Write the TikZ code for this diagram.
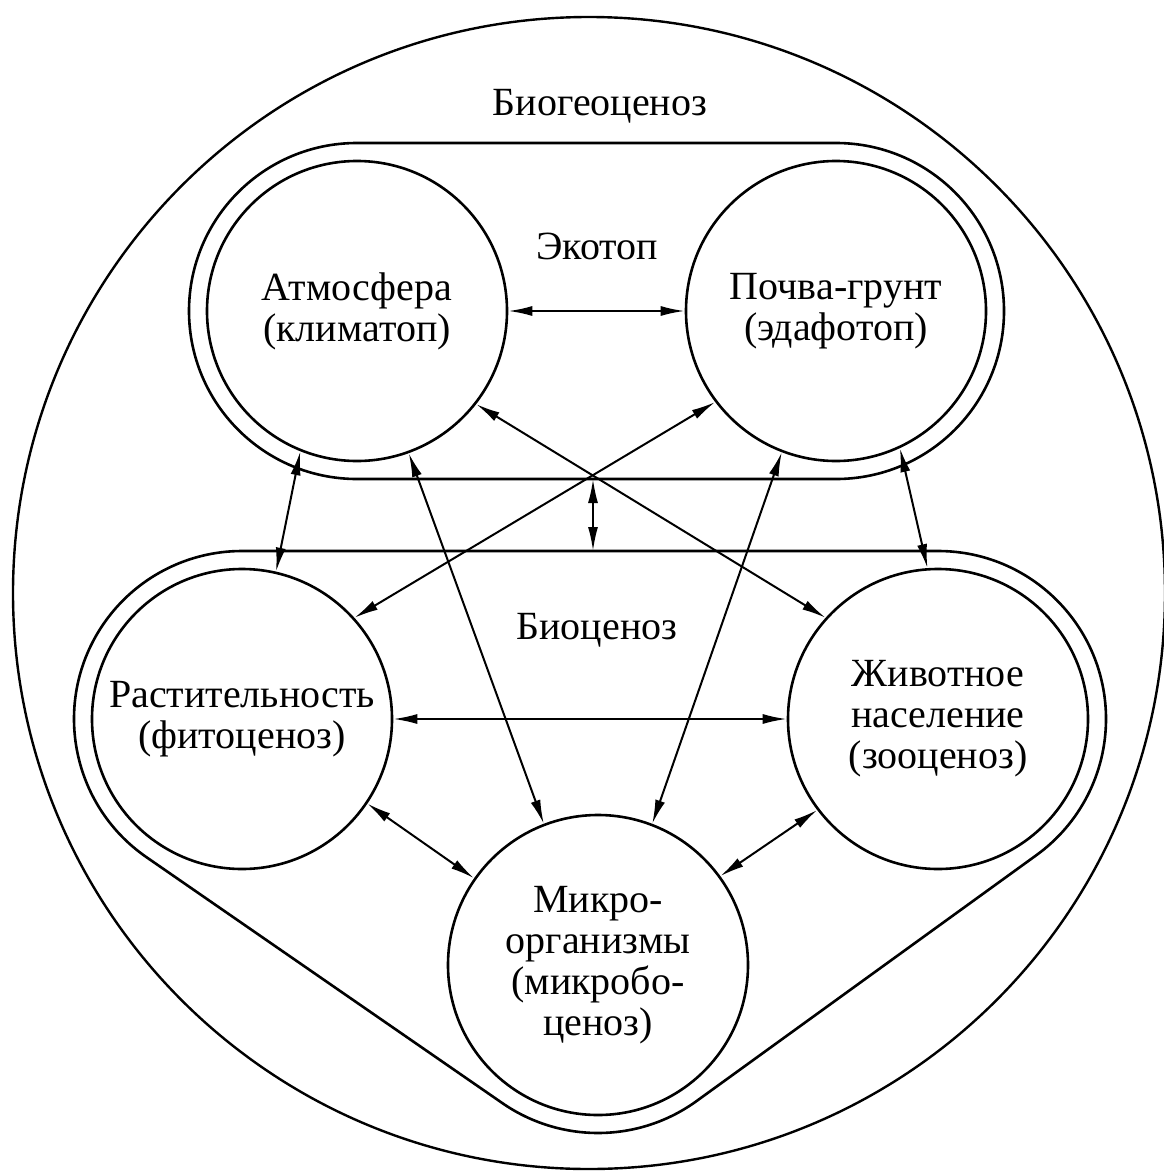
\documentclass[tikz,border=0pt]{standalone}
\usepackage{fontspec}
\setmainfont{Liberation Serif}
\usetikzlibrary{arrows.meta,calc}
\begin{document}
\begin{tikzpicture}[x=1pt,y=1pt,
  unit/.style={circle,draw,line width=2.6pt,minimum size=300pt,inner sep=0pt,align=center,font=\fontsize{40}{41}\selectfont},
  hull/.style={draw,line width=2.6pt},
  link/.style={line width=2pt,{Latex[length=24pt,width=10pt]}-{Latex[length=24pt,width=10pt]}},
  lbl/.style={font=\fontsize{40}{41}\selectfont}]
\fill[white] (0,0) rectangle (1163,-1175);
\useasboundingbox (0,0) rectangle (1163,-1175);
% outer circle
\draw[line width=2.4pt] (589,-593) circle[radius=576];
% units
\node[unit] (atm) at (357,-311) {Атмосфера\\(климатоп)};
\node[unit] (poch) at (836,-311) {Почва-грунт\\(эдафотоп)};
\node[unit] (rast) at (242,-719) {Растительность\\(фитоценоз)};
\node[unit] (zhiv) at (938,-719) {Животное\\население\\(зооценоз)};
\node[unit] (mikro) at (598,-965) {Микро-\\организмы\\(микробо-\\ценоз)};
% ecotop hull
\draw[hull] (357,-143) -- (836,-143) arc[start angle=90,end angle=-90,radius=168] -- (357,-479) arc[start angle=270,end angle=90,radius=168] -- cycle;
% biocenosis hull
\draw[hull] (242,-551) -- (938,-551) arc[start angle=90,end angle=-54.11,radius=168] -- ++(-340,-246) arc[start angle=-54.11,end angle=-124.64,radius=168] -- ++(-356,246) arc[start angle=235.36,end angle=90,radius=168] -- cycle;
% labels
\node[lbl] (tBio) at (600,-106) {Биогеоценоз};
\node[lbl] (tEco) at (597,-246) {Экотоп};
\node[lbl] (tBc) at (597,-630) {Биоценоз};
% connectors
\coordinate (ecoB) at (593,-479);
\coordinate (bioT) at (593,-551);
\draw[link] (ecoB) -- (bioT);
\draw[link] (atm.0) -- (poch.180);
\draw[link] (rast.0) -- (zhiv.180);
\draw[link] (rast.-34.5) -- (mikro.145);
\draw[link] (zhiv.217) -- (mikro.36);
\draw[link] (atm.-70) -- (mikro.111.5);
\draw[link] (poch.-111) -- (mikro.69);
\draw[link] (atm.-38) -- (zhiv.138);
\draw[link] (poch.217) -- (rast.42);
\draw[link] (atm.248) -- (rast.77);
\draw[link] (poch.-65) -- (zhiv.94);
\end{tikzpicture}
\end{document}
